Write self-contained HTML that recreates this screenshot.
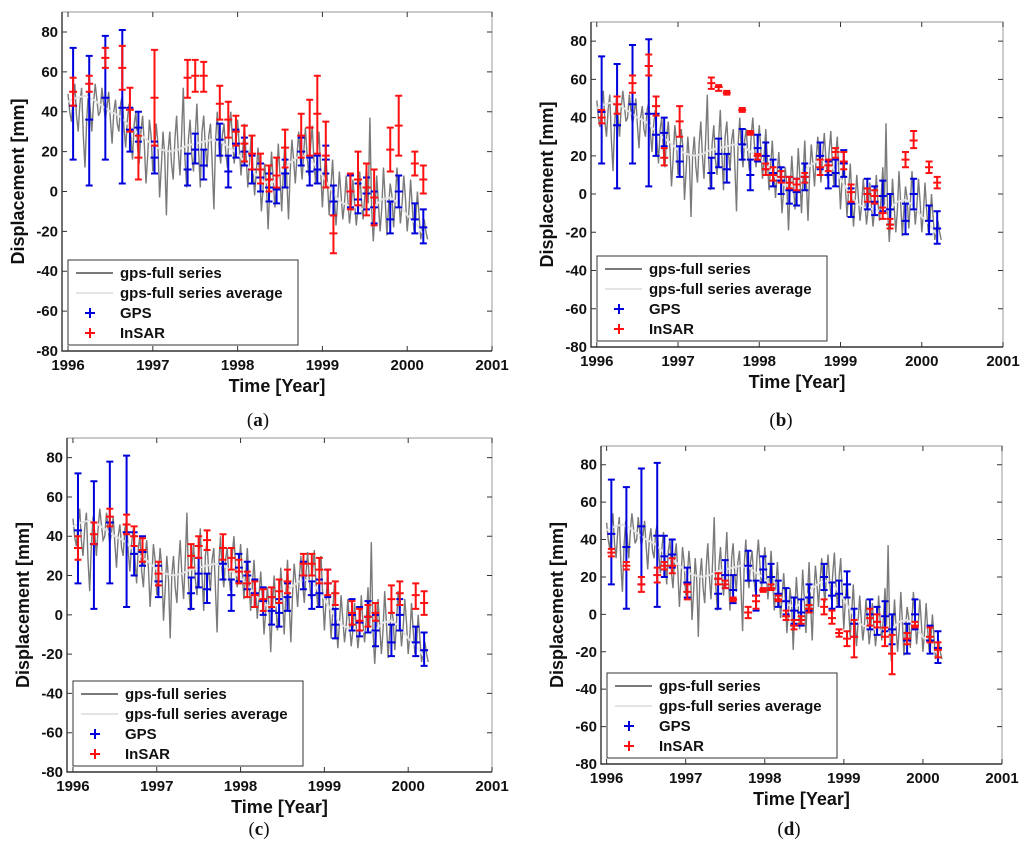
<!DOCTYPE html>
<html><head><meta charset="utf-8"><style>
html,body{margin:0;padding:0;background:#fff;}
svg{display:block;font-family:"Liberation Sans",Arial,sans-serif;}
</style></head><body>
<svg id="fig" width="1024" height="857" viewBox="0 0 1024 857" xmlns="http://www.w3.org/2000/svg"></svg>
<script>
// ---- shared data ----
const obsYears = [1996.06,1996.25,1996.44,1996.64,1996.73,1996.83,1997.02,1997.41,1997.50,1997.60,1997.79,1997.89,1997.98,1998.08,1998.17,1998.27,1998.37,1998.46,1998.56,1998.75,1998.85,1998.94,1999.04,1999.13,1999.33,1999.42,1999.52,1999.61,1999.80,1999.90,2000.09,2000.19];
const gpsVal = [43,36,47,42,31,32,17,11,21,13,26,10,24,20,11,7,2,1,9,20,10,11,16,-5,0,-4,-1,-8,-14,0,-14,-18];
const gpsLo  = [16,3,16,4,20,25,9,3,14,6,18,2,17,13,4,0,-5,-6,2,13,3,4,9,-12,-8,-11,-9,-16,-21,-8,-21,-26];
const gpsHi  = [72,68,78,81,42,40,25,19,29,21,34,18,31,27,18,14,9,8,16,27,17,18,23,3,8,4,7,0,-5,8,-6,-9];

const insarAVal = [50,54,67,62,41,17,47,57,58,58,44,36,30,24,19,11,6,8,22,28,32,39,18,-21,0,6,2,-3,21,33,14,6];
const insarALo  = [43,50,62,51,30,6,23,47,50,50,36,27,23,15,11,4,0,2,12,17,18,19,2,-31,-9,-7,-12,-17,10,18,8,-1];
const insarAHi  = [57,58,72,73,52,28,71,66,66,65,53,45,38,33,28,19,13,17,31,39,46,58,35,-12,9,20,14,11,32,48,20,13];

const insarBVal = [40,47,58,67,46,19,38,58,56,53,44,32,20,13,10,9,6,5,9,14,15,22,17,1,0,-1,-10,-16,18,28,14,6];
const insarBLo  = [37,42,53,62,41,15,30,55,54,52,43,31,18,10,7,6,3,2,6,10,12,19,13,-4,-4,-5,-13,-18,14,24,11,3];
const insarBHi  = [44,51,62,73,51,24,46,61,57,54,45,33,21,16,14,12,9,8,11,18,18,24,22,5,3,2,-7,-13,22,33,17,9];

const insarCVal = [34,41,50,46,40,33,21,30,35,38,34,29,22,16,10,8,9,12,17,26,26,23,16,11,1,-3,-1,1,8,11,10,6];
const insarCLo  = [28,36,45,41,35,27,15,24,29,33,28,23,16,9,4,2,4,6,11,20,20,16,10,5,-5,-8,-6,-3,1,5,3,0];
const insarCHi  = [40,47,54,51,45,39,27,36,40,43,41,34,28,22,17,13,14,18,23,31,31,29,23,17,7,3,5,6,15,17,16,12];

const insarDVal = [33,26,16,21,26,26,12,19,16,8,1,7,13,14,8,-1,-6,-3,3,4,-2,-10,-13,-12,-2,-4,-12,-21,-13,-6,-12,-19];
const insarDLo  = [31,24,12,17,24,22,8,16,14,7,-2,3,12,13,7,-3,-8,-5,1,0,-5,-12,-17,-23,-6,-7,-17,-32,-16,-7,-15,-23];
const insarDHi  = [35,28,20,25,28,30,16,22,18,9,4,10,14,16,10,2,-3,-1,5,8,2,-8,-9,-3,3,0,-7,-11,-10,-4,-7,-15];

// full GPS series, samples every 0.04 yr from 1996.00
const fullStart = 1996.0, fullStep = 0.04;
const fullSeries = [49,35,54,30,52,12,50,30,54,38,52,36,50,24,46,30,48,22,44,16,40,14,38,4,36,10,34,-3,30,-12,30,6,38,8,52,2,36,10,44,2,38,12,34,-9,40,14,34,12,40,14,36,8,34,2,28,-2,22,-10,14,-19,20,-8,24,-10,28,-14,26,4,30,6,32,8,33,4,30,-8,20,-12,16,-17,10,-14,8,-16,6,-17,10,-14,14,37,-25,8,-20,12,-22,4,-18,12,-16,8,-20,6,-20,0,-24,-14,-24];
// intermediate samples of the full series, every 0.04 yr from 1996.02
const midStart = 1996.02;
const fullSeriesMid = [40,46,38,44,28,36,42,44,46,40,44,42,36,40,34,44,32,36,28,34,22,30,24,18,28,
20,24,12,18,20,14,26,20,28,16,26,18,28,20,30,22,28,14,26,22,28,20,30,26,24,
22,20,18,14,12,10,8,2,4,2,6,4,8,10,6,10,16,18,16,20,18,22,16,20,10,
8,4,2,-2,-4,-2,-6,-4,-8,-6,-8,-4,-2,-6,-8,-10,-6,-8,-4,-8,-2,-4,-2,-6,-4,
-10,-8,-14,-12,-18,-20];
// average series, samples every 0.1 yr from 1996.0
const avgStart = 1996.0, avgStep = 0.1;
const avgSeries = [45,47,48,46,43,40,38,34,30,27,23,21,20,21,23,24,25,26,25,22,19,14,9,5,4,8,14,17,18,14,8,1,-5,-7,-8,-9,-8,-4,-3,-6,-12,-16,-22];

const xTicks = [1996,1997,1998,1999,2000,2001];
const yTicks = [-80,-60,-40,-20,0,20,40,60,80];
const legendLabels = ["gps-full series","gps-full series average","GPS","InSAR"];

const NS = "http://www.w3.org/2000/svg";
const fig = document.getElementById('fig');
function mk(tag, attrs, parent){ const e=document.createElementNS(NS,tag); for(const k in attrs) e.setAttribute(k,attrs[k]); (parent||fig).appendChild(e); return e; }

// merged full series (time-sorted)
const fullPts = [];
fullSeries.forEach((v,i)=>{ fullPts.push([fullStart+i*fullStep, v]); });
fullSeriesMid.forEach((v,i)=>{ fullPts.push([midStart+i*fullStep, v]); });
fullPts.sort((a,b)=>a[0]-b[0]);

const panels = [
  {id:'a', box:[62,12,492,351], v:insarAVal, lo:insarALo, hi:insarAHi, cap:[258,426]},
  {id:'b', box:[591,22,1003,347], v:insarBVal, lo:insarBLo, hi:insarBHi, cap:[781,426]},
  {id:'c', box:[67,438,492,772], v:insarCVal, lo:insarCLo, hi:insarCHi, cap:[259,835]},
  {id:'d', box:[601,446,1002,764], v:insarDVal, lo:insarDLo, hi:insarDHi, cap:[789,835]}
];
const XMIN=1995.929, XMAX=2001, YMIN=-80, YMAX=90;

panels.forEach(p=>{
  const [L,T,R,B]=p.box;
  const sx = x => L + (x-XMIN)/(XMAX-XMIN)*(R-L);
  const sy = y => B - (y-YMIN)/(YMAX-YMIN)*(B-T);
  const g = mk('g',{});
  
  
  const clipId='clip'+p.id;
  const cp=mk('clipPath',{id:clipId},g); mk('rect',{x:L,y:T,width:R-L,height:B-T},cp);

  let pts=fullPts.map(q=>sx(q[0]).toFixed(1)+','+sy(q[1]).toFixed(1)).join(' ');
  const fl=mk('polyline',{points:pts,fill:'none',stroke:'#7a7a7a','stroke-width':1.4,'clip-path':'url(#'+clipId+')'},g);
  
  
  pts=avgSeries.map((v,i)=>sx(avgStart+i*avgStep).toFixed(1)+','+sy(v).toFixed(1)).join(' ');
  const al=mk('polyline',{points:pts,fill:'none',stroke:'#e4e4e4','stroke-width':2,'clip-path':'url(#'+clipId+')'},g);
  
  

  function errbars(vals,los,his,color,name){
    const eg=mk('g',{stroke:color,'stroke-width':2,fill:'none'},g);
    
    
    vals.forEach((v,i)=>{
      const x=sx(obsYears[i]);
      const b=mk('path',{d:`M${x},${sy(los[i])}V${sy(his[i])}M${x-3.5},${sy(los[i])}h7M${x-3.5},${sy(his[i])}h7M${x-4},${sy(v)}h8`},eg);
      
      
    });
  }
  errbars(gpsVal,gpsLo,gpsHi,'#0000dd','gps-errorbars');
  errbars(p.v,p.lo,p.hi,'#ff1010','insar-errorbars');

  mk('path',{d:`M${L},${T}H${R}V${B}`,stroke:'#aaa','stroke-width':1.2,fill:'none'},g);
  mk('path',{d:`M${L},${T}V${B}H${R}`,stroke:'#333','stroke-width':1.4,fill:'none'},g);
  xTicks.forEach(t=>{
    const x=sx(t);
    mk('path',{d:`M${x},${B}v-5M${x},${T}v5`,stroke:'#333','stroke-width':1},g);
    const tl=mk('text',{x:x,y:B+19,'font-size':15,'font-weight':'bold','text-anchor':'middle',fill:'#111'},g);
    tl.textContent=t;
    
    
  });
  yTicks.forEach(t=>{
    const y=sy(t);
    mk('path',{d:`M${L},${y}h5M${R},${y}h-5`,stroke:'#333','stroke-width':1},g);
    const tl=mk('text',{x:L-4,y:y+5,'font-size':15,'font-weight':'bold','text-anchor':'end',fill:'#111'},g);
    tl.textContent=t;
    
    
  });
  const xt=mk('text',{x:(L+R)/2,y:B+41,'font-size':18,'font-weight':'bold','text-anchor':'middle',fill:'#111'},g);
  xt.textContent='Time [Year]';
  
  
  const yc=(T+B)/2;
  const yt=mk('text',{x:L-38,y:yc,'font-size':18,'font-weight':'bold','text-anchor':'middle',fill:'#111',transform:`rotate(-90 ${L-38} ${yc})`},g);
  yt.textContent='Displacement [mm]';
  
  

  const lg=mk('g',{},g);
  
  
  const lx=L+6, ly=B-91;
  mk('rect',{x:lx,y:ly,width:230,height:85,fill:'#fff',stroke:'#333','stroke-width':1},lg);
  legendLabels.forEach((lab,i)=>{
    const ry=ly+13+i*20;
    if(i===0) mk('path',{d:`M${lx+8},${ry}h37`,stroke:'#7a7a7a','stroke-width':2},lg);
    if(i===1) mk('path',{d:`M${lx+8},${ry}h37`,stroke:'#e4e4e4','stroke-width':2},lg);
    if(i>=2){ const c=i===2?'#0000dd':'#ff1010'; mk('path',{d:`M${lx+22},${ry-5}v10M${lx+17},${ry}h10`,stroke:c,'stroke-width':2},lg); }
    const t=mk('text',{x:lx+52,y:ry+5,'font-size':15,'font-weight':'bold',fill:'#111'},lg);
    t.textContent=lab;
    
    
  });

  const cap=mk('text',{x:p.cap[0],y:p.cap[1],'font-size':19,'text-anchor':'middle',fill:'#111','font-family':'"Liberation Serif",serif'},fig);
  cap.innerHTML='(<tspan font-weight="bold">'+p.id+'</tspan>)';
  
  
});
</script>
</body></html>
